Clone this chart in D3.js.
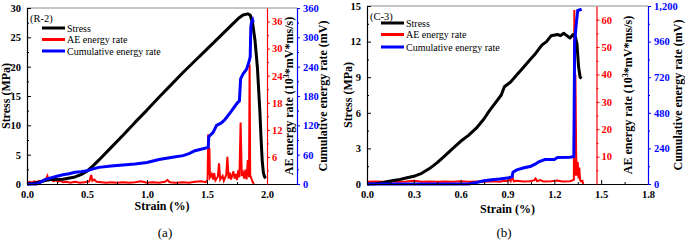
<!DOCTYPE html>
<html>
<head>
<meta charset="utf-8">
<script src="https://cdn.jsdelivr.net/npm/d3@7"></script>
<style>
  body { margin: 0; background: #fff; }
  svg, svg text { font-family: "Liberation Serif", "DejaVu Serif", "Times New Roman", serif; }
</style>
</head>
<body>
<div id="chart"></div>
<script>
// ---- data ----
const legendLabels = ['Stress', 'AE energy rate', 'Cumulative energy rate'];

// (a) R-2
const strainTicksA = [0, 0.5, 1.0, 1.5, 2.0];
const stressTicksA = [0, 5, 10, 15, 20, 25, 30];
const aeTicksA = [6, 12, 18, 24, 30, 36];
const cumTicksA = [0, 60, 120, 180, 240, 300, 360];

const stressA = [
  [0, 0], [0.05, 0.1], [0.1, 0.3], [0.15, 0.6], [0.2, 0.75], [0.3, 0.8], [0.4, 1.2],
  [0.45, 1.6], [0.5, 2.2], [0.55, 3.1], [0.6, 4.1], [0.7, 6.2], [0.8, 8.3], [0.9, 10.5],
  [1.0, 12.6], [1.1, 14.8], [1.2, 16.9], [1.3, 19.0], [1.4, 21.0], [1.5, 23.0],
  [1.6, 25.0], [1.7, 27.0], [1.76, 28.2], [1.8, 28.8], [1.84, 29.0], [1.86, 28.8],
  [1.88, 27.4], [1.9, 24.5], [1.92, 19.9], [1.94, 12.6], [1.95, 8.0], [1.96, 4.0],
  [1.97, 1.9], [1.98, 1.2], [1.99, 1.0],
];

const aeA = [
  [0, 0.3], [0.02, 0.5], [0.04, 0.3], [0.06, 0.6], [0.08, 0.4], [0.1, 0.7], [0.12, 0.5],
  [0.14, 0.9], [0.16, 1.2], [0.17, 1.8], [0.18, 0.9], [0.2, 1.1], [0.22, 0.6], [0.24, 0.8],
  [0.26, 0.5], [0.28, 0.7], [0.3, 0.4], [0.33, 0.5], [0.36, 0.3], [0.4, 0.5], [0.44, 0.3],
  [0.48, 0.4], [0.52, 0.6], [0.535, 2.0], [0.545, 0.7], [0.56, 1.0], [0.58, 0.5],
  [0.62, 0.4], [0.66, 0.3], [0.7, 0.4], [0.75, 0.3], [0.8, 0.4], [0.85, 0.3], [0.9, 0.4],
  [0.95, 0.6], [1.0, 0.3], [1.05, 0.4], [1.1, 0.3], [1.15, 0.5], [1.17, 0.9], [1.19, 0.4],
  [1.24, 0.3], [1.3, 0.4], [1.35, 0.3], [1.4, 0.5], [1.45, 0.6], [1.49, 0.4],
  [1.505, 1.0], [1.51, 11.0], [1.515, 2.0], [1.52, 8.0], [1.525, 1.5], [1.54, 2.2],
  [1.55, 1.0], [1.56, 2.4], [1.57, 0.8], [1.59, 1.6], [1.6, 4.6], [1.61, 1.0], [1.63, 1.8],
  [1.64, 0.7], [1.66, 2.0], [1.67, 6.0], [1.68, 1.2], [1.69, 2.5], [1.7, 1.0], [1.72, 2.8],
  [1.73, 1.2], [1.74, 2.2], [1.75, 0.9], [1.76, 3.0], [1.77, 1.5], [1.78, 13.6],
  [1.79, 1.8], [1.8, 2.5], [1.81, 1.2], [1.82, 3.2], [1.83, 1.0], [1.84, 5.3], [1.85, 1.5],
  [1.855, 26.5], [1.86, 2.0], [1.87, 1.2], [1.88, 0.5], [1.89, 0],
];

const cumA = [
  [0, 0], [0.08, 0], [0.12, 5], [0.15, 9], [0.19, 12], [0.25, 16], [0.3, 19], [0.35, 21],
  [0.4, 24], [0.45, 25], [0.5, 27], [0.55, 31], [0.6, 34], [0.7, 37], [0.8, 39], [0.9, 41],
  [1.0, 44], [1.05, 47], [1.1, 50], [1.2, 54], [1.3, 58], [1.35, 62], [1.4, 68], [1.45, 71],
  [1.51, 75], [1.515, 97], [1.55, 105], [1.58, 120], [1.62, 125], [1.65, 132], [1.7, 148],
  [1.75, 165], [1.77, 170], [1.78, 215], [1.8, 225], [1.83, 235], [1.85, 250], [1.86, 260],
  [1.865, 320], [1.87, 330], [1.88, 335], [1.885, 330],
];

// (b) C-3
const strainTicksB = [0, 0.3, 0.6, 0.9, 1.2, 1.5, 1.8];
const stressTicksB = [0, 3, 6, 9, 12, 15];
const aeTicksB = [10, 20, 30, 40, 50, 60];
const cumTicksB = [0, 240, 480, 720, 960, 1200];

const stressB = [
  [0, 0], [0.05, 0.02], [0.1, 0.1], [0.15, 0.25], [0.2, 0.35], [0.25, 0.5], [0.3, 0.65],
  [0.35, 0.9], [0.4, 1.3], [0.45, 1.8], [0.5, 2.4], [0.55, 3.0], [0.6, 3.6], [0.65, 4.1],
  [0.7, 4.7], [0.75, 5.5], [0.78, 6.1], [0.82, 6.8], [0.86, 7.5], [0.88, 8.2], [0.92, 8.6],
  [0.96, 9.2], [1.0, 9.8], [1.04, 10.4], [1.08, 11.0], [1.12, 11.7], [1.15, 12.0],
  [1.18, 12.5], [1.22, 12.6], [1.24, 12.5], [1.26, 12.7], [1.28, 12.5], [1.3, 12.3],
  [1.32, 12.6], [1.335, 12.4], [1.345, 11.8], [1.355, 9.9], [1.365, 9.0], [1.375, 8.9],
];

const aeB = [
  [0, 0.8], [0.05, 0.9], [0.1, 0.8], [0.15, 1.0], [0.2, 0.8], [0.25, 0.9], [0.3, 1.2],
  [0.35, 0.8], [0.4, 0.9], [0.45, 0.8], [0.5, 0.9], [0.55, 0.8], [0.6, 1.0], [0.65, 0.8],
  [0.7, 0.9], [0.75, 0.8], [0.8, 1.0], [0.85, 0.8], [0.88, 1.2], [0.9, 1.0], [0.91, 1.8],
  [0.92, 1.0], [0.93, 2.8], [0.94, 1.0], [0.96, 1.2], [1.0, 0.9], [1.04, 1.0], [1.07, 1.3],
  [1.08, 2.0], [1.09, 1.0], [1.11, 1.4], [1.13, 0.9], [1.18, 1.0], [1.22, 1.3], [1.25, 0.9],
  [1.3, 1.0], [1.325, 1.5], [1.328, 63.5], [1.332, 3.0], [1.335, 40], [1.34, 10.5],
  [1.345, 3.0], [1.35, 8.0], [1.355, 2.0], [1.36, 6.0], [1.365, 1.5], [1.37, 1.0],
  [1.38, 1.2], [1.385, 0],
];

const cumB = [
  [0, 0], [0.65, 0], [0.7, 10], [0.75, 22], [0.8, 28], [0.85, 33], [0.9, 40], [0.93, 50],
  [0.935, 80], [0.96, 95], [1.0, 108], [1.05, 120], [1.08, 135], [1.1, 150], [1.14, 165],
  [1.2, 165], [1.22, 178], [1.3, 180], [1.325, 185], [1.33, 950], [1.337, 1040],
  [1.343, 1105], [1.35, 1170], [1.375, 1178],
];

// ---- drawing ----
const width = 685;
const height = 241;
const serif = '"Liberation Serif", "DejaVu Serif", "Times New Roman", serif';

const svg = d3
  .select('#chart')
  .append('svg')
  .attr('width', width)
  .attr('height', height)
  .attr('font-family', serif);

const mids = (ticks) => d3.pairs(ticks).map(([a, b]) => (a + b) / 2);

const drawPanel = (p) => {
  const g = svg.append('g');

  const x = d3.scaleLinear().domain([0, p.xMax]).range([p.left, p.right]);
  const y = d3.scaleLinear().domain([0, p.stressMax]).range([p.bottom, p.top]);
  const yAE = d3.scaleLinear().domain([0, p.aeMax]).range([p.bottom, p.top]);
  const yCum = d3.scaleLinear().domain([0, p.cumMax]).range([p.bottom, p.top]);

  // top border
  g.append('line')
    .attr('x1', p.left)
    .attr('x2', p.right)
    .attr('y1', p.top)
    .attr('y2', p.top)
    .attr('stroke', '#8c8c8c')
    .attr('stroke-width', 1);

  const line = (ys) =>
    d3
      .line()
      .x((d) => x(d[0]))
      .y((d) => ys(d[1]));

  g.append('path')
    .attr('d', line(yAE)(p.ae))
    .attr('fill', 'none')
    .attr('stroke', '#ff0000')
    .attr('stroke-width', 2);

  g.append('path')
    .attr('d', line(y)(p.stress))
    .attr('fill', 'none')
    .attr('stroke', '#000')
    .attr('stroke-width', 3)
    .attr('stroke-linejoin', 'round');

  g.append('path')
    .attr('d', line(yCum)(p.cum))
    .attr('fill', 'none')
    .attr('stroke', '#0000ff')
    .attr('stroke-width', 3);

  // x axis
  g.append('g')
    .attr('transform', `translate(0,${p.bottom})`)
    .call(
      d3
        .axisBottom(x)
        .tickValues(p.xTicks)
        .tickFormat(d3.format('.1f'))
        .tickSize(-4)
        .tickSizeOuter(0)
        .tickPadding(7),
    );
  g.append('g')
    .attr('transform', `translate(0,${p.bottom})`)
    .call(d3.axisBottom(x).tickValues(mids(p.xTicks)).tickFormat('').tickSize(-2).tickSizeOuter(0))
    .select('.domain')
    .remove();

  // left axis
  g.append('g')
    .attr('transform', `translate(${p.left},0)`)
    .call(d3.axisLeft(y).tickValues(p.stressTicks).tickSize(-4).tickSizeOuter(0).tickPadding(6));
  g.append('g')
    .attr('transform', `translate(${p.left},0)`)
    .call(d3.axisLeft(y).tickValues(mids(p.stressTicks)).tickFormat('').tickSize(-2).tickSizeOuter(0))
    .select('.domain')
    .remove();

  // red AE axis
  const xr = x(p.redAt);
  g.append('g')
    .attr('transform', `translate(${xr},0)`)
    .style('color', '#ff0000')
    .call(d3.axisRight(yAE).tickValues(p.aeTicks).tickSize(3).tickSizeOuter(0).tickPadding(2));
  g.append('g')
    .attr('transform', `translate(${xr},0)`)
    .style('color', '#ff0000')
    .call(
      d3
        .axisRight(yAE)
        .tickValues(mids([0].concat(p.aeTicks)))
        .tickFormat('')
        .tickSize(2)
        .tickSizeOuter(0),
    )
    .select('.domain')
    .remove();

  // blue cumulative axis
  g.append('g')
    .attr('transform', `translate(${p.right},0)`)
    .style('color', '#0000ff')
    .call(d3.axisRight(yCum).tickValues(p.cumTicks).tickSize(3).tickSizeOuter(0).tickPadding(3));
  g.append('g')
    .attr('transform', `translate(${p.right},0)`)
    .style('color', '#0000ff')
    .call(d3.axisRight(yCum).tickValues(mids(p.cumTicks)).tickFormat('').tickSize(2).tickSizeOuter(0))
    .select('.domain')
    .remove();

  g.selectAll('g').attr('font-family', serif);
  g.selectAll('.tick text')
    .attr('font-size', 10.5)
    .attr('font-weight', 'bold');
  g.selectAll('.domain').attr('stroke-width', 1.2);

  // axis titles
  const midY = (p.top + p.bottom) / 2;
  const vTitle = (cx, label) =>
    g
      .append('text')
      .attr('transform', `translate(${cx},${midY}) rotate(-90)`)
      .attr('text-anchor', 'middle')
      .attr('dy', '0.35em')
      .attr('font-size', 12)
      .attr('font-weight', 'bold')
      .text(label);

  vTitle(p.stressTitleX, 'Stress (MPa)');
  const aeTitle = vTitle(p.aeTitleX, '');
  aeTitle.append('tspan').text('AE energy rate (10');
  aeTitle.append('tspan').attr('baseline-shift', 'super').attr('font-size', 8).text('3');
  aeTitle.append('tspan').text('*mV*ms/s)');
  vTitle(p.cumTitleX, 'Cumulative energy rate (mV)');

  g.append('text')
    .attr('x', (p.left + p.right) / 2)
    .attr('y', p.xTitleY)
    .attr('text-anchor', 'middle')
    .attr('font-size', 12)
    .attr('font-weight', 'bold')
    .text('Strain (%)');

  g.append('text')
    .attr('x', p.captionX)
    .attr('y', 237)
    .attr('text-anchor', 'middle')
    .attr('font-size', 13)
    .text(p.caption);

  // legend
  g.append('text')
    .attr('x', p.tagX)
    .attr('y', p.tagY)
    .attr('font-size', 10.5)
    .text(p.tag);

  const colors = ['#000', '#ff0000', '#0000ff'];
  legendLabels.forEach((label, i) => {
    const ly = p.legendY[i];
    g.append('line')
      .attr('x1', p.legendX)
      .attr('x2', p.legendX + 23)
      .attr('y1', ly)
      .attr('y2', ly)
      .attr('stroke', colors[i])
      .attr('stroke-width', 3);
    g.append('text')
      .attr('x', p.legendX + 25)
      .attr('y', ly)
      .attr('dy', '0.35em')
      .attr('font-size', 10)
      .text(label);
  });
};

drawPanel({
  left: 27, right: 297, top: 8, bottom: 184,
  xMax: 2.25, stressMax: 30, aeMax: 39, cumMax: 360, redAt: 2.0,
  xTicks: strainTicksA, stressTicks: stressTicksA, aeTicks: aeTicksA, cumTicks: cumTicksA,
  stress: stressA, ae: aeA, cum: cumA,
  stressTitleX: 6, aeTitleX: 289, cumTitleX: 323, xTitleY: 210,
  caption: '(a)', captionX: 165,
  tag: '(R-2)', tagX: 30, tagY: 22,
  legendX: 42, legendY: [28, 39.5, 51],
});

drawPanel({
  left: 367, right: 648, top: 6, bottom: 184,
  xMax: 1.8, stressMax: 15, aeMax: 65, cumMax: 1200, redAt: 1.47,
  xTicks: strainTicksB, stressTicks: stressTicksB, aeTicks: aeTicksB, cumTicks: cumTicksB,
  stress: stressB, ae: aeB, cum: cumB,
  stressTitleX: 348, aeTitleX: 628, cumTitleX: 678, xTitleY: 213,
  caption: '(b)', captionX: 504,
  tag: '(C-3)', tagX: 370, tagY: 20,
  legendX: 381, legendY: [23, 34.5, 47],
});
</script>
</body>
</html>
